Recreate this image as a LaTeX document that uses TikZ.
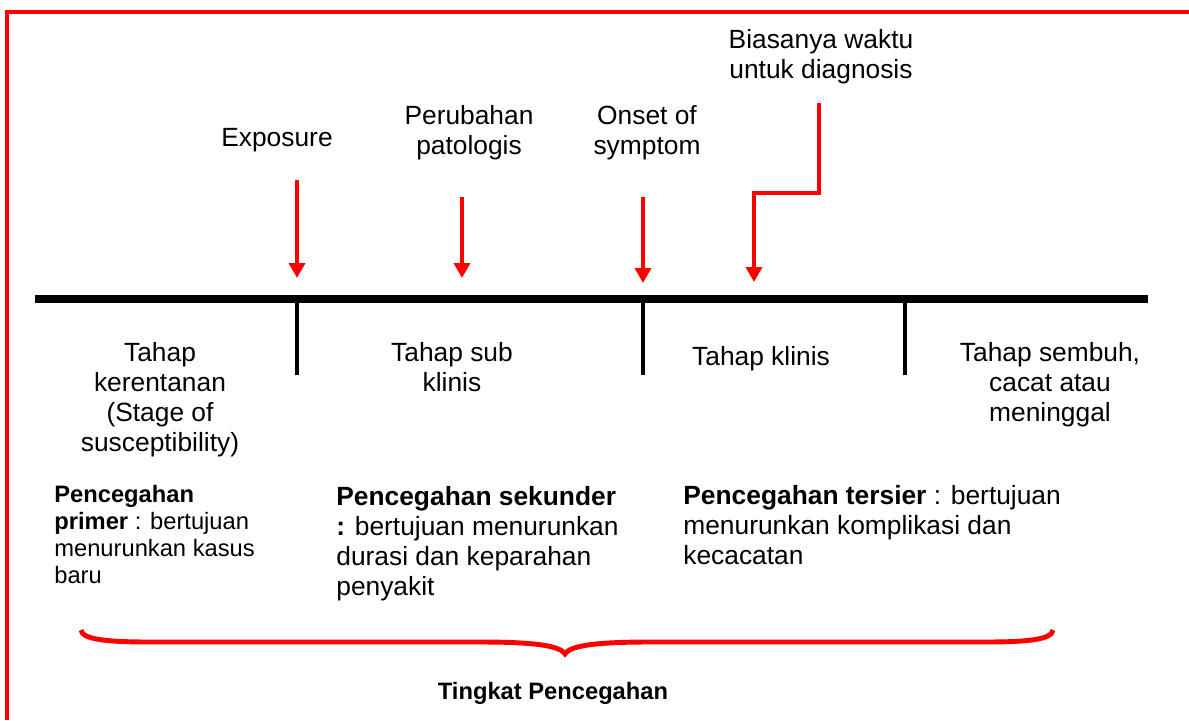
\documentclass[tikz,border=0pt]{standalone}
\usepackage{fontspec}
\setmainfont{Liberation Sans}
\usetikzlibrary{arrows.meta}
\definecolor{garismerah}{RGB}{255,0,0}

\tikzset{
	teks/.style={font=\fontsize{15}{17}\selectfont, align=center, anchor=north, inner sep=0pt},
	cegah/.style={font=\fontsize{15}{17}\selectfont, align=left, anchor=north west, inner sep=0pt},
	panah/.style={garismerah, line width=2.3pt, -{Triangle[width=0.32cm,length=0.3cm]}},
	sekat/.style={line width=2pt},
}

\begin{document}
\begin{tikzpicture}[x=0.02cm,y=-0.02cm]
	\useasboundingbox (0,0) rectangle (1189,720);
	% bingkai
	\draw[garismerah, line width=2.3pt] (7,720) -- (7,12) -- (1189,12);

	% garis waktu
	\coordinate (kiri) at (35,299);
	\coordinate (kanan) at (1148,299);
	\draw[line width=4pt] (kiri) -- (kanan);
	\foreach \x [count=\i] in {297,643,905} {
		\coordinate (atas\i) at (\x,299);
		\coordinate (bawah\i) at (\x,375);
		\draw[sekat] (atas\i) -- (bawah\i);
	}

	% peristiwa
	\node[teks] (exposure) at (277,128) {Exposure};
	\node[teks] (patologis) at (469,105) {Perubahan\\patologis};
	\node[teks] (onset) at (647,105) {Onset of\\symptom};
	\node[teks] (diagnosis) at (821,29) {Biasanya waktu\\untuk diagnosis};

	\coordinate (expA) at (297,180);   \coordinate (expB) at (297,278);
	\coordinate (patA) at (462,197);   \coordinate (patB) at (462,278);
	\coordinate (onsA) at (643,197);   \coordinate (onsB) at (643,283);
	\coordinate (diaA) at (819,103);   \coordinate (diaC) at (754,193);
	\coordinate (diaB) at (754,282);
	\draw[panah] (expA) -- (expB);
	\draw[panah] (patA) -- (patB);
	\draw[panah] (onsA) -- (onsB);
	\draw[panah] (diaA) |- (diaC) -- (diaB);

	% tahap
	\node[teks] (kerentanan) at (160,342) {Tahap\\kerentanan\\(Stage of\\susceptibility)};
	\node[teks] (subklinis) at (452,342) {Tahap sub\\klinis};
	\node[teks] (klinis) at (761,346) {Tahap klinis};
	\node[teks] (sembuh) at (1050,342) {Tahap sembuh,\\cacat atau\\meninggal};

	% tingkat pencegahan
	\node[cegah, font=\fontsize{13.5}{15.4}\selectfont] (primer) at (54,485)
		{\textbf{Pencegahan}\\\textbf{primer} : bertujuan\\menurunkan kasus\\baru};
	\node[cegah] (sekunder) at (336,486)
		{\textbf{Pencegahan sekunder}\\\textbf{:} bertujuan menurunkan\\durasi dan keparahan\\penyakit};
	\node[cegah] (tersier) at (683,485)
		{\textbf{Pencegahan tersier} : bertujuan\\menurunkan komplikasi dan\\kecacatan};

	% kurung kurawal
	\draw[garismerah, line width=2.8pt] (81,630) .. controls (82,640) and (110,642) .. (150,642)
		-- (480,642) .. controls (530,642) and (560,645) .. (565,654)
		.. controls (570,645) and (600,642) .. (650,642) -- (985,642)
		.. controls (1025,642) and (1052,640) .. (1053,630);
	\node[teks, font=\bfseries\fontsize{13.5}{15.4}\selectfont] (tingkat) at (553,682) {Tingkat Pencegahan};
\end{tikzpicture}
\end{document}
